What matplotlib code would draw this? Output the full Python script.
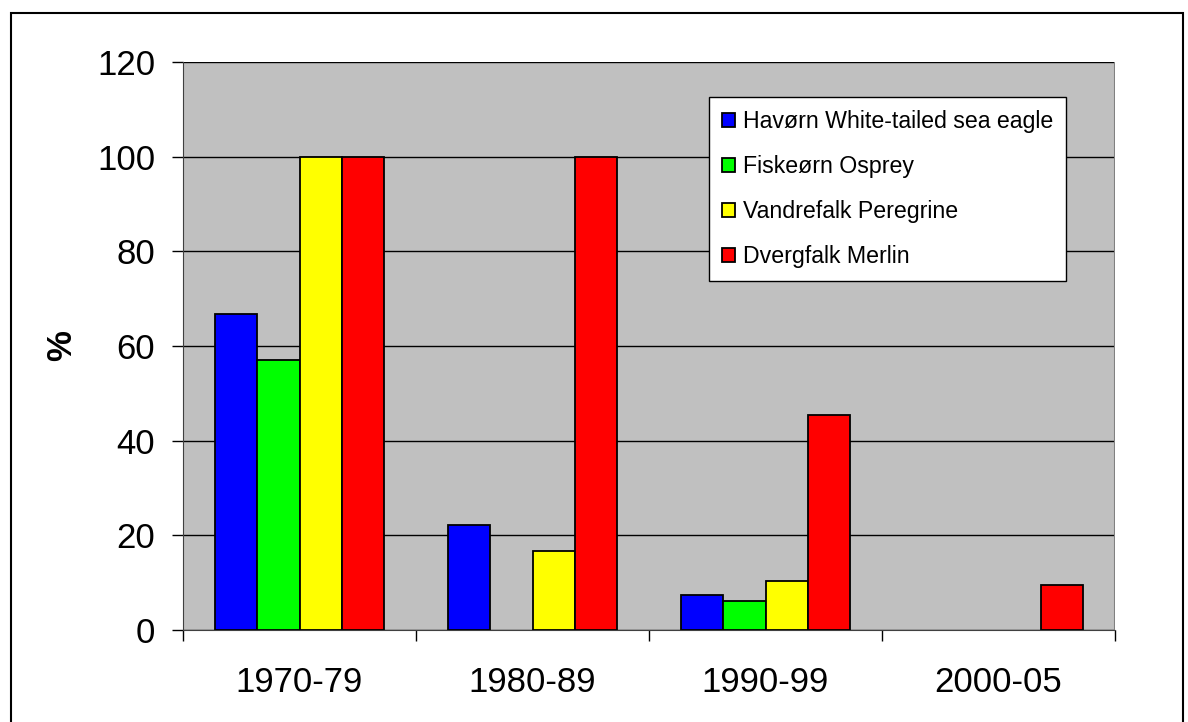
import numpy as np
import matplotlib.pyplot as plt
from matplotlib.patches import Rectangle

plt.rcParams['font.family'] = ['Liberation Sans', 'DejaVu Sans']

# %% data
periods = ['1970-79', '1980-89', '1990-99', '2000-05']
species = ['Havørn White-tailed sea eagle', 'Fiskeørn Osprey',
           'Vandrefalk Peregrine', 'Dvergfalk Merlin']
havorn = [66.7, 22.2, 7.4, 0]
fiskeorn = [57.1, 0, 6.1, 0]
vandrefalk = [100, 16.7, 10.3, 0]
dvergfalk = [100, 100, 45.5, 9.5]
colors = ['#0000FF', '#00FF00', '#FFFF00', '#FF0000']

# %% plot
fig = plt.figure(figsize=(11.88, 7.22), dpi=100)
ax = fig.add_axes([183/1188, 1 - 630/722, (1115 - 183)/1188, (630 - 62)/722])
ax.set_facecolor('#C0C0C0')

x = np.arange(len(periods))
w = 0.181
for i, (vals, c, lab) in enumerate(zip([havorn, fiskeorn, vandrefalk, dvergfalk], colors, species)):
    vals = np.array(vals, dtype=float)
    vals[vals == 0] = np.nan   # empty cells are not drawn
    ax.bar(x + (i - 1.5) * w, vals, w, color=c, edgecolor='black', linewidth=1.3,
           label=lab, zorder=3)

ax.set_xlim(-0.5, 3.5)
ax.set_ylim(0, 120)
ax.set_yticks(range(0, 121, 20))
ax.yaxis.grid(True, color='black', linewidth=1)
ax.set_axisbelow(True)
ax.set_xticks(x)
ax.set_xticklabels(periods)
ax.set_xticks(np.arange(-0.5, 4, 1), minor=True)
ax.tick_params(axis='x', which='major', length=0, labelsize=25, pad=26)
ax.tick_params(axis='x', which='minor', length=8, width=1, color='black')
ax.tick_params(axis='y', length=8, width=1, labelsize=25, pad=12)
for s in ['top', 'right']:
    ax.spines[s].set_visible(False)
ax.spines['left'].set_color('#404040')
ax.spines['bottom'].set_color('#404040')
ax.axvline(3.5, color='#808080', linewidth=1.5)
ax.set_ylabel('%', fontsize=25, fontweight='bold')
ax.yaxis.set_label_coords((78 - 183)/932, 0.5)

leg = ax.legend(loc='upper left', bbox_to_anchor=((709 - 183)/932, (630 - 97)/568),
                fontsize=16.7, frameon=True, fancybox=False, framealpha=1,
                edgecolor='black', handlelength=0.55, handleheight=0.55,
                handletextpad=0.35, labelspacing=0.95, borderpad=0.55,
                borderaxespad=0)
leg.get_frame().set_linewidth(1)

# outer frame
fig.patches.append(Rectangle((11/1188, -0.01), (1183 - 11)/1188, 1 - 13/722 + 0.01,
                             transform=fig.transFigure, fill=False,
                             edgecolor='black', linewidth=1.5))

fig.savefig('out.png', dpi=100)
